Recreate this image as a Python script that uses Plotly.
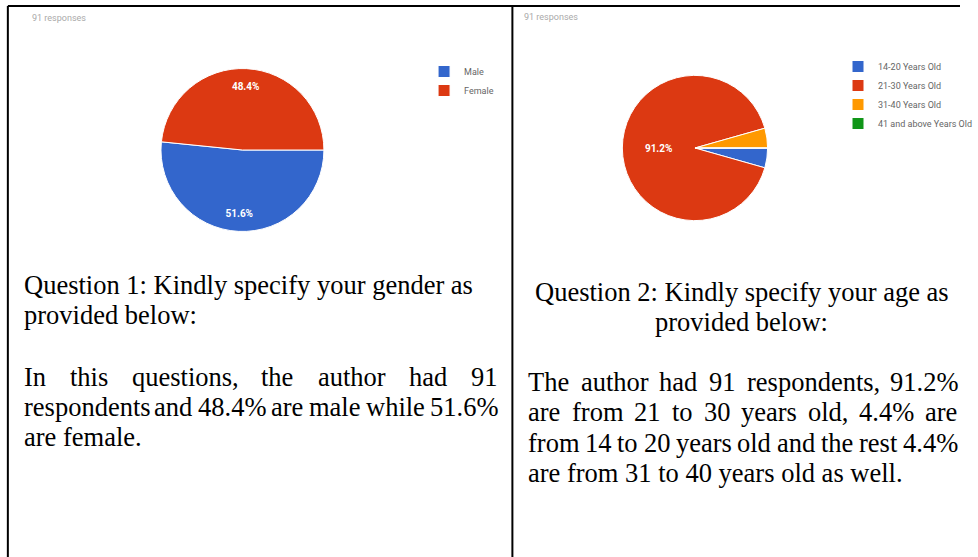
import plotly.graph_objects as go

W, H = 978, 557

# ---------------- data ----------------
gender_labels = ["Male", "Female"]
gender_values = [51.6, 48.4]
gender_colors = ["#3366cc", "#dc3912"]

age_labels = ["14-20 Years Old", "21-30 Years Old", "31-40 Years Old", "41 and above Years Old"]
age_values = [4.4, 91.2, 4.4, 0.0]
age_colors = ["#3366cc", "#dc3912", "#ff9900", "#109618"]
age_shown_labels = ["", "%{value:.1f}%", "", ""]

responses_text = "91 responses"

q1_lines = ["Question 1: Kindly specify your gender as", "provided below:"]
a1_lines = ["In this questions, the author had 91",
            "respondents and 48.4% are male while 51.6%",
            "are female."]
q2_lines = ["Question 2: Kindly specify your age as", "provided below:"]
a2_lines = ["The author had 91 respondents, 91.2%",
            "are from 21 to 30 years old, 4.4% are",
            "from 14 to 20 years old and the rest 4.4%",
            "are from 31 to 40 years old as well."]

# ---------------- helpers ----------------
TIMES = {' ': 250, '%': 833, ',': 250, '.': 250, ':': 278, '-': 333,
         'A': 722, 'I': 333, 'Q': 722, 'T': 611, 'K': 722,
         'a': 444, 'b': 500, 'c': 444, 'd': 500, 'e': 444, 'f': 333, 'g': 500,
         'h': 500, 'i': 278, 'j': 278, 'k': 500, 'l': 278, 'm': 778, 'n': 500,
         'o': 500, 'p': 500, 'q': 500, 'r': 333, 's': 389, 't': 278, 'u': 500,
         'v': 500, 'w': 722, 'x': 500, 'y': 500, 'z': 444}
FS = 26.5
SERIF = "Liberation Serif, Times New Roman, serif"
SANS = "Roboto, Arial, sans-serif"


def tw(s, size=FS):
    return sum(TIMES.get(c, 500) for c in s) / 1000.0 * size


def px(x):
    return x / W


def py(y):
    return 1 - y / H


annotations = []


def add_text(text, x, y, anchor="left", size=FS, color="#000000", family=SERIF):
    annotations.append(dict(text=text, x=px(x), y=py(y), xref="paper", yref="paper",
                            xanchor=anchor, yanchor="middle", showarrow=False,
                            borderpad=0, font=dict(family=family, size=size, color=color)))


def add_justified(line, left, right, y):
    words = line.split(" ")
    total = sum(tw(w) for w in words)
    gap = (right - left - total) / (len(words) - 1)
    x = left
    for w in words:
        add_text(w, x, y)
        x += tw(w) + gap


# ---------------- figure ----------------
fig = go.Figure()

dom1 = dict(x=[px(164), px(330)], y=[py(233), py(67)])
dom2 = dict(x=[px(634), px(782)], y=[py(222), py(74)])
common = dict(sort=False, direction="clockwise", rotation=90)

# gender pie
fig.add_trace(go.Pie(
    labels=gender_labels, values=gender_values, **common,
    marker=dict(colors=gender_colors, line=dict(color="white", width=1)),
    textinfo="none", domain=dom1, legend="legend", hoverinfo="label+percent",
))
# transparent ring carrying the gender slice labels (places them near the rim)
fig.add_trace(go.Pie(
    labels=gender_labels, values=gender_values, **common, hole=0.56,
    marker=dict(colors=["rgba(0,0,0,0)"] * 2, line=dict(width=0)),
    texttemplate="%{value:.1f}%", textposition="inside", insidetextorientation="horizontal",
    textfont=dict(family=SANS, size=10, color="white", weight="bold"),
    domain=dom1, showlegend=False, hoverinfo="skip",
))

# age pie
fig.add_trace(go.Pie(
    labels=age_labels, values=age_values, **common,
    marker=dict(colors=age_colors, line=dict(color="white", width=1)),
    texttemplate=age_shown_labels, textposition="inside", insidetextorientation="horizontal",
    textfont=dict(family=SANS, size=10, color="white", weight="bold"),
    domain=dom2, legend="legend2", hoverinfo="label+percent",
))

# small "91 responses" captions
add_text(responses_text, 32, 18, size=9, color="#aaaaaa", family=SANS)
add_text(responses_text, 533, 17, size=9, color="#aaaaaa", family=SANS)

# left column text
LX0, LX1 = 23, 505
add_text(q1_lines[0], LX0, 285)
add_text(q1_lines[1], LX0, 315)
add_justified(a1_lines[0], LX0, LX1, 377)
add_justified(a1_lines[1], LX0, LX1, 407)
add_text(a1_lines[2], LX0, 437)

# right column text
RX0, RX1 = 537, 974
RC = (RX0 + RX1) / 2
add_text(q2_lines[0], RC, 292, anchor="center")
add_text(q2_lines[1], RC, 322, anchor="center")
add_justified(a2_lines[0], RX0, RX1, 382)
add_justified(a2_lines[1], RX0, RX1, 412)
add_justified(a2_lines[2], RX0, RX1, 443)
add_text(a2_lines[3], RX0, 473)

# table borders
shapes = [
    dict(type="line", xref="paper", yref="paper", x0=px(8), x1=1, y0=py(6), y1=py(6),
         line=dict(color="black", width=2)),
    dict(type="line", xref="paper", yref="paper", x0=px(8), x1=px(8), y0=py(6), y1=0,
         line=dict(color="black", width=2)),
    dict(type="line", xref="paper", yref="paper", x0=px(522), x1=px(522), y0=py(6), y1=0,
         line=dict(color="black", width=2)),
]

fig.update_layout(
    width=W, height=H, margin=dict(l=0, r=0, t=0, b=0),
    paper_bgcolor="white", plot_bgcolor="white",
    annotations=annotations, shapes=shapes,
    legend=dict(x=px(432), y=py(57), xanchor="left", yanchor="top",
                font=dict(family=SANS, size=9, color="#666666"),
                bgcolor="rgba(0,0,0,0)", tracegroupgap=0),
    legend2=dict(x=px(854), y=py(52), xanchor="left", yanchor="top",
                 font=dict(family=SANS, size=9, color="#666666"),
                 bgcolor="rgba(0,0,0,0)", tracegroupgap=0),
)

fig.write_html("out.html")
